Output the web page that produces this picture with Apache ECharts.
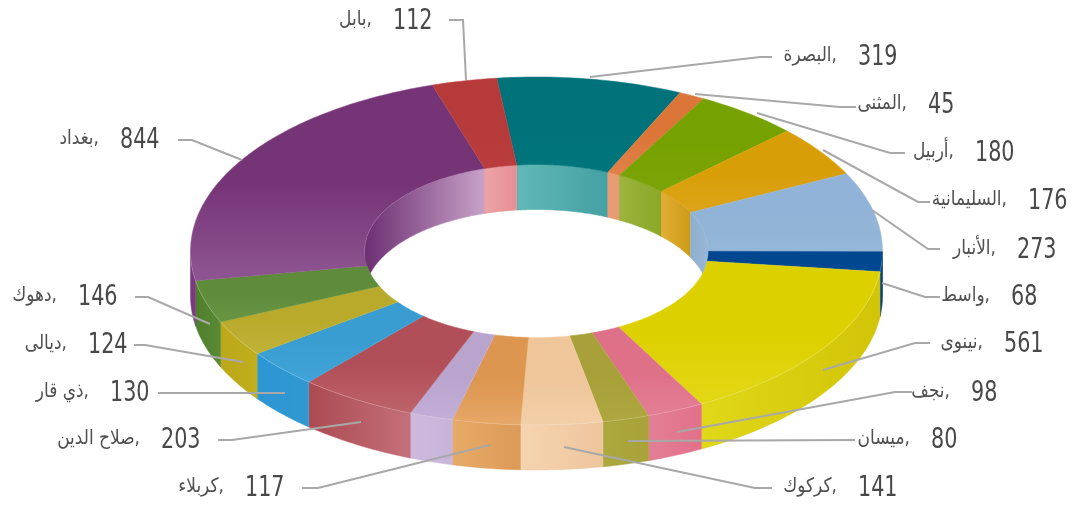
<!DOCTYPE html>
<html><head><meta charset="utf-8">
<script src="https://cdn.jsdelivr.net/npm/echarts@6/dist/echarts.min.js"></script>
<style>html,body{margin:0;padding:0;background:#fff}#c{width:1083px;height:510px}</style>
</head><body><div id="c"></div>
<script>
const categories=["البصرة","المثنى","أربيل","السليمانية","الأنبار","واسط","نينوى","نجف","ميسان","كركوك","كربلاء","القادسية","صلاح الدين","ذي قار","ديالى","دهوك","بغداد","بابل"];
const values=[319,45,180,176,273,68,561,98,80,141,117,75,203,130,124,146,844,112];
const showLabel=[1,1,1,1,1,1,1,1,1,1,1,0,1,1,1,1,1,1];

// styling, separate from the data
const topColors=[["#00737A","#00757B"],["#DC7638","#E08048"],["#76A200","#7CA408"],["#D89E08","#DCA418"],["#90B3D7","#95B7D8"],["#00478F","#004A94"],["#DDD000","#E2D816"],["#DE7088","#E47F96"],["#A8A038","#AEA63E"],["#EFC69A","#F3CFA8"],["#DC9650","#E7A868"],["#B8A4CC","#C2AED6"],["#B14F58","#BE636B"],["#3A9DD2","#40A4D8"],["#B9AA2C","#C0B238"],["#5F8C3A","#689644"],["#753476","#8F5592"],["#B63A39","#B83D3C"]];
const sideColors=[["#007A80","#007A80"],["#E08A50","#E08A50"],["#7CA810","#7CA810"],["#D8A418","#D8A418"],["#90B3D7","#90B3D7"],["#00478F","#003F80"],["#E0D818","#D2C408"],["#E27F96","#E2708A"],["#ADA83E","#A8A238"],["#F6D4B0","#EDC59C"],["#E8AA68","#DC9A58"],["#CDBADE","#C8B4DA"],["#AB4A50","#C4707A"],["#2C96D4","#3099D0"],["#BCA81A","#C0AE1C"],["#4F7E2C","#5A8A36"],["#7B3A80","#7B3A80"],["#B63A39","#B63A39"]];
const innerColors=[["#62B8B8","#44A0A2"],["#E89C74","#E89C74"],["#9CB43C","#8AA828"],["#E2AE34","#CC9A18"],["#8DAED0","#9AB8D6"],["#00478F","#00478F"],["#DDD000","#DDD000"],["#DE7088","#DE7088"],["#A8A038","#A8A038"],["#EFC69A","#EFC69A"],["#DC9650","#DC9650"],["#B8A4CC","#B8A4CC"],["#B14F58","#B14F58"],["#3A9DD2","#3A9DD2"],["#B9AA2C","#B9AA2C"],["#5F8C3A","#5F8C3A"],["#6C2F72","#C8A2C8"],["#EBA4A6","#E58E94"]];

// label layout: value-text left edge / centre line, then the leader polyline
const labelLayout=[
 {x:858,y:56,line:[[772,57],[760,57],[590,77]]},
 {x:928,y:104,line:[[856,107],[840,107],[695,94]]},
 {x:975,y:152,line:[[905,153],[890,153],[757,113]]},
 {x:1028,y:200,line:[[930,202],[918,202],[823,150]]},
 {x:1017,y:249,line:[[940,249],[928,249],[872,210]]},
 {x:1011,y:296,line:[[940,297],[925,297],[882,283]]},
 {x:1004,y:343,line:[[930,343],[915,343],[823,370]]},
 {x:971,y:392,line:[[912,392],[895,392],[677,432]]},
 {x:931,y:439,line:[[855,440],[628,441]]},
 {x:858,y:487,line:[[772,488],[755,488],[564,447]]},
 {x:245,y:487,line:[[302,488],[318,488],[490,445]]},
 null,
 {x:161,y:439,line:[[218,440],[232,440],[361,422]]},
 {x:110,y:392,line:[[158,393],[285,393]]},
 {x:88,y:344,line:[[134,345],[145,345],[243,362]]},
 {x:78,y:296,line:[[135,297],[148,297],[210,324]]},
 {x:120,y:139,line:[[178,140],[192,140],[242,160]]},
 {x:393,y:20,line:[[449,20],[463,20],[466,80]]}
];
const geo={cx:536.5,cy:251,rx:346,ry:174,irx:172,iry:86.5,depth:45,start:-6.6};
const total=values.reduce((a,b)=>a+b,0);
const pt=(a,rx,ry,dy)=>{const t=a*Math.PI/180;return [geo.cx+rx*Math.sin(t),geo.cy-ry*Math.cos(t)+(dy||0)];};
const arc=(a0,a1,rx,ry,dy)=>{const n=Math.max(2,Math.ceil(Math.abs(a1-a0)));const o=[];for(let i=0;i<=n;i++)o.push(pt(a0+(a1-a0)*i/n,rx,ry,dy));return o;};
const grad=(c,hor,hold)=>({type:'linear',x:0,y:0,x2:hor?1:0,y2:hor?0:1,colorStops:[{offset:0,color:c[0]},{offset:hold||0,color:c[0]},{offset:1,color:c[1]}]});

function renderItem(params,api){
  const i=params.dataIndex;
  let sum=0;for(let k=0;k<i;k++)sum+=values[k];
  const a0=geo.start+sum/total*360, a1=a0+api.value(0)/total*360;
  const ch=[];
  // top face
  ch.push({type:'polygon',z2:3,shape:{points:arc(a0,a1,geo.rx,geo.ry).concat(arc(a1,a0,geo.irx,geo.iry))},
    style:{fill:grad(topColors[i],false,0.5),stroke:topColors[i][1],lineWidth:0.5}});
  // outer wall: only the front half (90..270 deg) is visible
  const s0=Math.max(a0,90),s1=Math.min(a1,270);
  if(s1>s0){
    ch.push({type:'polygon',z2:2,shape:{points:arc(s0,s1,geo.rx,geo.ry).concat(arc(s1,s0,geo.rx,geo.ry,geo.depth))},
      style:{fill:grad(sideColors[i],true),stroke:sideColors[i][1],lineWidth:0.5}});
    ch.push({type:'polyline',z2:3.5,shape:{points:arc(s0,s1,geo.rx,geo.ry)},
      style:{fill:null,stroke:'rgba(255,255,255,0.18)',lineWidth:1}});
  }
  // inner wall: only the back half is visible
  [[a0,Math.min(a1,90)],[Math.max(a0,270),a1]].forEach(function(r){
    if(r[1]>r[0]) ch.push({type:'polygon',z2:1,shape:{points:arc(r[0],r[1],geo.irx,geo.iry).concat(arc(r[1],r[0],geo.irx,geo.iry,geo.depth))},
      style:{fill:grad(innerColors[i],true),stroke:innerColors[i][1],lineWidth:0.5}});
  });
  // labels
  const L=labelLayout[i];
  if(showLabel[i]&&L){
    ch.push({type:'polyline',z2:4,shape:{points:L.line},style:{fill:null,stroke:'#A8A8A8',lineWidth:2}});
    ch.push({type:'text',z2:5,x:L.x,y:L.y+1.5,scaleX:0.74,style:{text:String(values[i]),x:0,y:0,font:'28px "DejaVu Sans"',fill:'#484848',textAlign:'left',textVerticalAlign:'middle'}});
    ch.push({type:'text',z2:5,x:L.x-21,y:L.y,scaleX:0.85,style:{text:categories[i]+'\u200E,',x:0,y:0,font:'20px "DejaVu Sans"',fill:'#505050',textAlign:'right',textVerticalAlign:'middle'}});
  }
  return {type:'group',children:ch};
}
const chart=echarts.init(document.getElementById('c'),null,{renderer:'canvas'});
chart.setOption({animation:false,backgroundColor:'#fff',
  series:[{type:'custom',coordinateSystem:'none',silent:true,data:values,renderItem:renderItem}]});
</script></body></html>
